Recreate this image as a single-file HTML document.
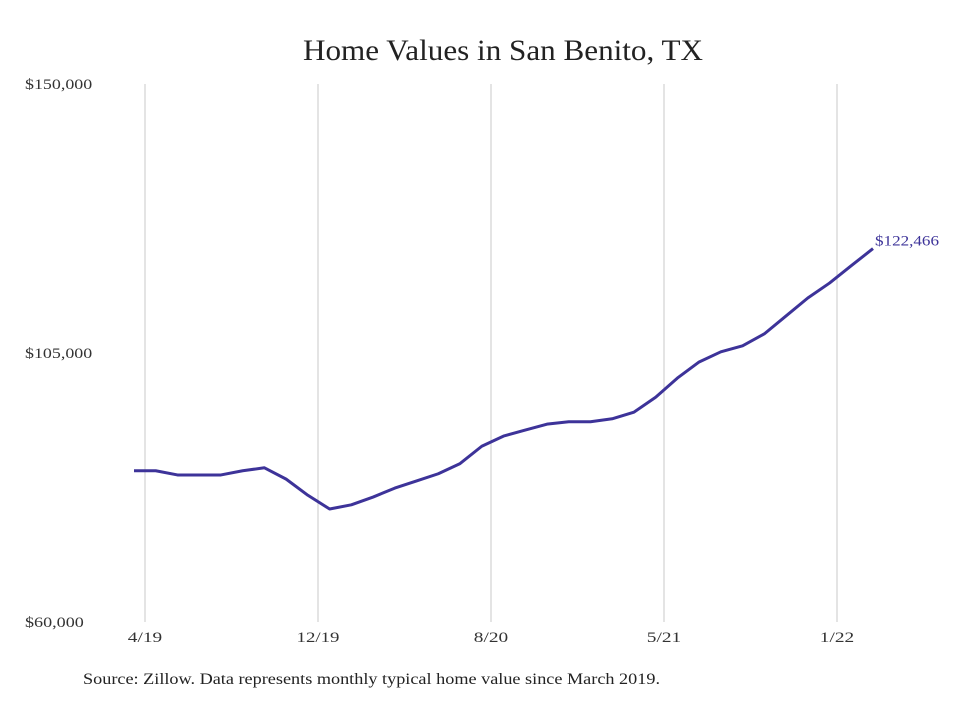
<!DOCTYPE html>
<html><head><meta charset="utf-8"><style>
body{margin:0;background:#fff;}
svg text{font-family:"Liberation Serif","DejaVu Serif",serif;}
</style></head><body>
<svg id="chart" width="980" height="699" viewBox="0 0 980 699" xmlns="http://www.w3.org/2000/svg">
<rect width="980" height="699" fill="#fff"/>
<text x="303" y="60" font-size="30" textLength="400" lengthAdjust="spacingAndGlyphs" fill="#222">Home Values in San Benito, TX</text>
<g id="grid"></g><g id="yaxis"></g><g id="xaxis"></g><g id="series"></g>
<text x="83" y="684" font-size="16" textLength="577" lengthAdjust="spacingAndGlyphs" fill="#222">Source: Zillow. Data represents monthly typical home value since March 2019.</text>
</svg>
<script>
const values=[85300,85300,84600,84600,84600,85300,85800,83900,81200,78900,79600,80900,82400,83600,84800,86500,89400,91100,92100,93100,93500,93500,94000,95100,97600,100800,103500,105200,106200,108200,111200,114200,116700,119600,122466];
const yTicks=[60000,105000,150000];
const yTickLabels=["$60,000","$105,000","$150,000"];
const xTickIdx=[0.5,8.5,16.5,24.5,32.5];
const xTickLabels=["4/19","12/19","8/20","5/21","1/22"];
const lastLabel="$122,466";
const NS="http://www.w3.org/2000/svg";
const x=i=>134+i*((873-134)/(values.length-1));
const y=v=>622-(v-60000)/90000*538;
const tx=i=>145+(i-0.5)*(837-145)/32;
function mk(t,a,p){const e=document.createElementNS(NS,t);for(const k in a)e.setAttribute(k,a[k]);p.appendChild(e);return e;}
const grid=document.getElementById('grid'),ya=document.getElementById('yaxis'),xa=document.getElementById('xaxis'),se=document.getElementById('series');
yTicks.forEach((v,k)=>{
 const s=yTickLabels[k];
 const t=mk('text',{x:25,y:y(v)+5,'font-size':15,fill:'#333',textLength:s.length*8.4,lengthAdjust:'spacingAndGlyphs'},ya);
 
 
 t.textContent=s;
});
xTickIdx.forEach((i,k)=>{
 const l=mk('line',{x1:tx(i),x2:tx(i),y1:84,y2:622,stroke:'#c8c8c8','stroke-width':1},grid);
 
 
 const s=xTickLabels[k];
 const t=mk('text',{x:tx(i),y:642,'font-size':15,fill:'#333','text-anchor':'middle',textLength:s.length*8.6,lengthAdjust:'spacingAndGlyphs'},xa);
 
 
 t.textContent=s;
});
const p=mk('polyline',{points:values.map((v,i)=>x(i)+','+y(v)).join(' '),fill:'none',stroke:'#3d3399','stroke-width':3,'stroke-linejoin':'round'},se);


const n=values.length-1;
const lab=mk('text',{x:x(n)+2,y:y(values[n])-3,'font-size':15,fill:'#3d3399',textLength:64,lengthAdjust:'spacingAndGlyphs'},se);


lab.textContent=lastLabel;
</script>
</body></html>
